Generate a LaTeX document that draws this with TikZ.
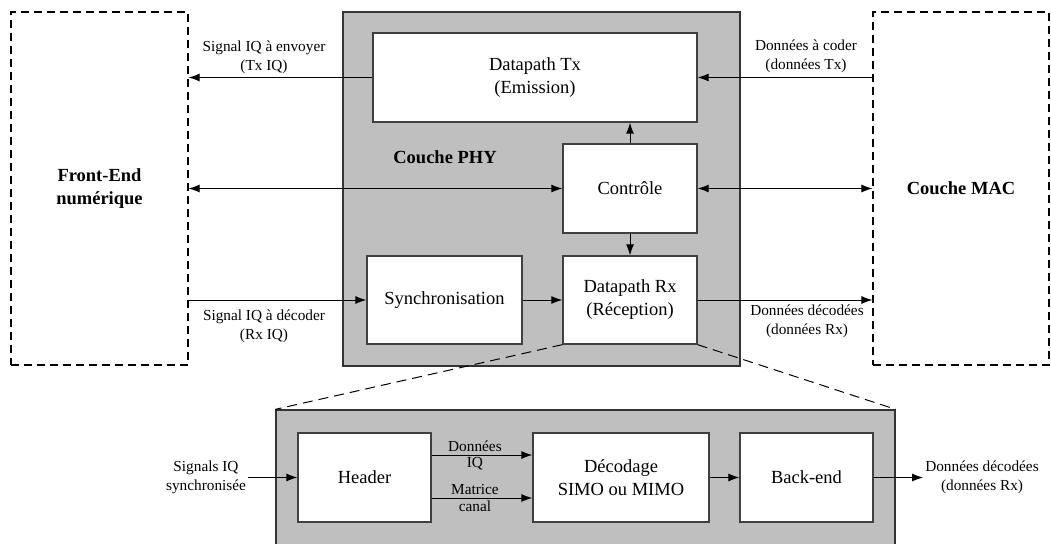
\documentclass[tikz,border=0pt]{standalone}
\usepackage{fontspec}
\setmainfont{Liberation Serif}
\usetikzlibrary{arrows.meta}

\begin{document}
\begin{tikzpicture}[x=1pt,y=-1pt,>={Latex[length=11pt,width=8pt]},
    bloc/.style={draw=black!75,line width=1.3pt,fill=white,rectangle,inner sep=0pt,
      align=center,font=\fontsize{18.5}{23}\selectfont},
    externe/.style={draw,dashed,dash pattern=on 8pt off 5pt,line width=1.1pt,rectangle,
      inner sep=0pt,align=center,font=\fontsize{18.5}{23}\selectfont\bfseries},
    couche/.style={draw=black!80,line width=1.3pt,fill=gray!50,rectangle,inner sep=0pt},
    etiq/.style={align=center,inner sep=2pt,font=\fontsize{15.3}{19}\selectfont}]

      \useasboundingbox (0,0) rectangle (1051,543);

      % blocs externes
      \node[externe,minimum width=177pt,minimum height=353pt] (fe)  at (99.5,188.5) {Front-End\\num\'erique};
      \node[externe,minimum width=176pt,minimum height=353pt] (mac) at (961,188.5) {Couche MAC};

      % couche PHY
      \node[couche,minimum width=397pt,minimum height=354pt] (phy) at (541.5,189) {};
      \node[font=\fontsize{18.5}{23}\selectfont\bfseries] (phytxt) at (445,157) {Couche PHY};

      \begin{scope}[every node/.style={bloc}]
        \node[minimum width=324pt,minimum height=89pt] (tx)   at (535,77.5)  {Datapath Tx\\(Emission)};
        \node[minimum width=134pt,minimum height=89pt] (ctrl) at (630,188.5) {Contr\^ole};
        \node[minimum width=155pt,minimum height=88pt] (sync) at (444.5,300) {Synchronisation};
        \node[minimum width=134pt,minimum height=88pt] (rx)   at (630,300)   {Datapath Rx\\(R\'eception)};
      \end{scope}

      % zoom sur le datapath Rx
      \node[couche,minimum width=619pt,minimum height=140pt] (zoom) at (585.5,480) {};

      \begin{scope}[every node/.style={bloc,minimum height=89pt}]
        \node[minimum width=133pt] (hdr) at (364.5,477.5) {Header};
        \node[minimum width=176pt] (dec) at (621,477.5)   {D\'ecodage\\SIMO ou MIMO};
        \node[minimum width=133pt] (be)  at (806.5,477.5) {Back-end};
      \end{scope}

      \draw[dashed,dash pattern=on 10pt off 6pt,line width=1pt] (rx.south west) -- (zoom.north west);
      \draw[dashed,dash pattern=on 10pt off 6pt,line width=1pt] (rx.south east) -- (zoom.north east);

      % etiquettes
      \begin{scope}[every node/.style={etiq}]
        \node (txiq)  at (264,57)  {Signal IQ \`a envoyer\\(Tx IQ)};
        \node (txmac) at (806,56)  {Donn\'ees \`a coder\\(donn\'ees Tx)};
        \node (rxiq)  at (264,326) {Signal IQ \`a d\'ecoder\\(Rx IQ)};
        \node (rxmac) at (807,321) {Donn\'ees d\'ecod\'ees\\(donn\'ees Rx)};
        \node (sin)   at (206,477.5) {Signals IQ\\synchronis\'ee};
        \node (sout)  at (982,477.5) {Donn\'ees d\'ecod\'ees\\(donn\'ees Rx)};
      \end{scope}

      % connexions
      \begin{scope}[line width=1pt]
        \draw[->] (tx) -- (tx -| fe.east);
        \draw[->] (mac.west |- tx) -- (tx.east);
        \draw[<->] (fe.east |- ctrl) -- (ctrl.west);
        \draw[<->] (ctrl.east) -- (ctrl -| mac.west);
        \draw[->] (ctrl.north) -- (tx.south -| ctrl.north);
        \draw[->] (ctrl.south) -- (rx.north);
        \draw[->] (fe.east |- sync) -- (sync.west);
        \draw[->] (sync.east) -- (rx.west);
        \draw[->] (rx.east) -- (rx -| mac.west);

        \draw[->] (sin.east) -- (hdr.west);
        \draw[->] ([yshift=22.5pt]hdr.east) -- node[etiq,pos=.43,above,inner sep=3pt] {Donn\'ees}
          node[etiq,pos=.43,below,inner sep=2pt] {IQ} ([yshift=22.5pt]dec.west);
        \draw[->] ([yshift=-20.5pt]hdr.east) -- node[etiq,pos=.43,above,inner sep=3pt] {Matrice}
          node[etiq,pos=.43,below,inner sep=2pt] {canal} ([yshift=-20.5pt]dec.west);
        \draw[->] (dec.east) -- (be.west);
        \draw[->] (be.east) -- (sout.west);
      \end{scope}

    \end{tikzpicture}
\end{document}
